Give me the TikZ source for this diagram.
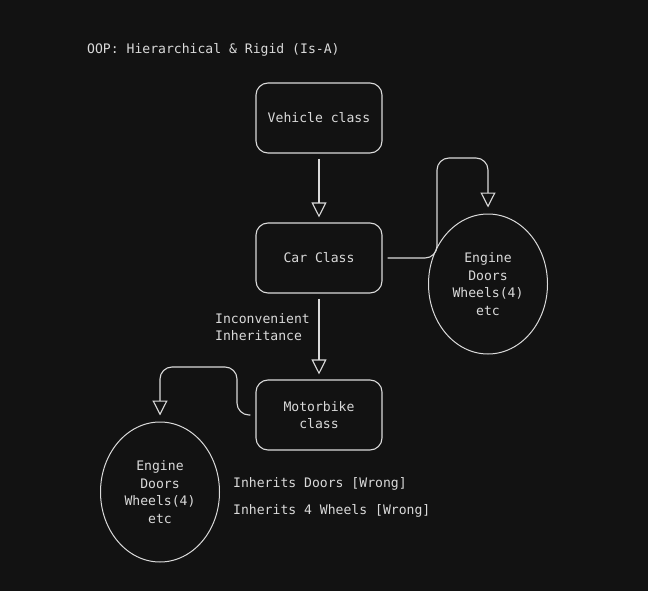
\documentclass[tikz,border=0pt]{standalone}
\usepackage{fontspec}
\setmonofont{DejaVu Sans Mono}
\usetikzlibrary{arrows.meta,shapes.geometric}
\definecolor{bg}{HTML}{121212}
\definecolor{ink}{HTML}{DADADA}
\begin{document}
\begin{tikzpicture}[x=1pt,y=-1pt,
  every node/.style={text=ink,font=\ttfamily\fontsize{13.1}{17.6}\selectfont},
  box/.style={draw=ink,line width=1.1pt,rounded corners=12pt,minimum width=126pt,minimum height=70pt,align=center},
  oval/.style={draw=ink,line width=1.0pt,ellipse,minimum width=119pt,minimum height=140pt,align=center,inner sep=0pt},
  arr/.style={draw=ink,line width=1.1pt,-{Triangle[open,length=15pt,width=15pt]}},
  lbl/.style={anchor=west,align=left,inner sep=0pt}]
\fill[bg] (0,0) rectangle (648,591);
\useasboundingbox (0,0) rectangle (648,591);
\node[lbl] (title) at (87,50) {OOP: Hierarchical \& Rigid (Is-A)};
\node[box] (veh) at (319,118) {Vehicle class};
\node[box] (car) at (319,258) {Car Class};
\node[box] (mb) at (319,415) {Motorbike\\class};
\node[oval] (e1) at (488,284) {Engine\\Doors\\Wheels(4)\\etc};
\node[oval] (e2) at (160,492) {Engine\\Doors\\Wheels(4)\\etc};
\node[lbl] (inc) at (215,327) {Inconvenient\\Inheritance};
\node[lbl] (w1) at (233,484) {Inherits Doors [Wrong]};
\node[lbl] (w2) at (233,511) {Inherits 4 Wheels [Wrong]};
\draw[arr] ([yshift=-5pt]veh.south) -- ([yshift=5pt]car.north);
\draw[arr] ([yshift=-5pt]car.south) -- ([yshift=5pt]mb.north);
\draw[arr,rounded corners=12pt] ([xshift=5pt]car.east) -| (437,158) -| ([yshift=6pt]e1.north);
\draw[arr,rounded corners=12pt] ([xshift=-5pt]mb.west) -| (237,367) -| ([yshift=6pt]e2.north);
\end{tikzpicture}
\end{document}
